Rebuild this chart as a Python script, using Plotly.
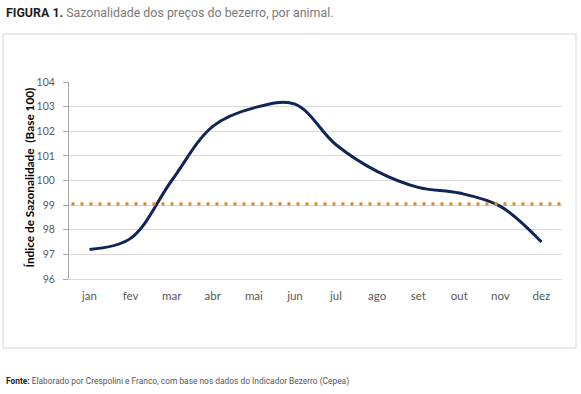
import plotly.graph_objects as go

months = ["jan", "fev", "mar", "abr", "mai", "jun", "jul", "ago", "set", "out", "nov", "dez"]
index_values = [97.2, 97.65, 100.0, 102.2, 102.95, 103.1, 101.45, 100.37, 99.72, 99.49, 98.95, 97.5]
reference_level = 99.05
y_ticks = [96, 97, 98, 99, 100, 101, 102, 103, 104]

W, H = 581, 394
L, R, T, B = 69, 19, 82, 115
PW, PH = W - L - R, H - T - B


def px_x(px):
    return (px - L) / PW


def px_y(py):
    return (H - B - py) / PH


fig = go.Figure()
fig.add_trace(go.Scatter(
    x=months, y=index_values, mode="lines",
    line=dict(color="#0f2557", width=3, shape="spline", smoothing=1.0),
    hoverinfo="skip", showlegend=False,
))

# reference dotted line across full plot width
fig.add_shape(type="line", xref="paper", yref="y", x0=0.005, x1=0.998,
              y0=reference_level, y1=reference_level,
              line=dict(color="#d98c3c", width=3.5, dash="3px,6px"), layer="above")

# outer chart frame
fig.add_shape(type="rect", xref="paper", yref="paper",
              x0=px_x(3), x1=px_x(576), y0=px_y(348), y1=px_y(34),
              line=dict(color="#e3e3e3", width=1.5), layer="below")

fig.add_annotation(xref="paper", yref="paper", x=px_x(4), y=px_y(12),
                   xanchor="left", yanchor="middle", showarrow=False,
                   text="<b>FIGURA 1.</b> <span style='color:#7a7a7a'>Sazonalidade dos preços do bezerro, por animal.</span>",
                   font=dict(family="Roboto", size=12.4, color="#1f1f1f"))

fig.add_annotation(xref="paper", yref="paper", x=px_x(4), y=px_y(381),
                   xanchor="left", yanchor="middle", showarrow=False,
                   text="<b>Fonte:</b> <span style='color:#555555'>Elaborado por Crespolini e Franco, com base nos dados do Indicador Bezerro (Cepea)</span>",
                   font=dict(family="Roboto", size=8.4, color="#1f1f1f"))

# y-axis title
fig.add_annotation(xref="paper", yref="paper", x=px_x(28.5), y=px_y(178),
                   xanchor="center", yanchor="middle", showarrow=False, textangle=-90,
                   text="<b>Índice de Sazonalidade  (Base 100)</b>",
                   font=dict(family="Lato", size=11.8, color="#000000"))

fig.update_layout(
    width=W, height=H,
    margin=dict(l=L, r=R, t=T, b=B, pad=0),
    paper_bgcolor="white", plot_bgcolor="white",
    font=dict(family="Lato", size=11, color="#595959"),
    xaxis=dict(
        type="category", categoryorder="array", categoryarray=months,
        range=[-0.5, 11.5], showgrid=False, showline=True,
        linecolor="#d9d9d9", linewidth=1, ticks="", ticklabelstandoff=6,
        tickfont=dict(family="Lato", size=11.5, color="#595959"),
    ),
    yaxis=dict(
        range=[96, 104], tickvals=y_ticks, showgrid=True,
        gridcolor="#d9d9d9", gridwidth=1, zeroline=False,
        showline=True, linecolor="#a6a6a6", linewidth=1,
        ticks="outside", ticklen=5, tickcolor="#a6a6a6", ticklabelstandoff=6,
        tickfont=dict(family="Lato", size=10.5, color="#595959"),
    ),
)

fig.write_html("out.html", config={"displayModeBar": False},
               post_script="document.body.style.margin='0px';document.body.style.overflow='hidden';")
